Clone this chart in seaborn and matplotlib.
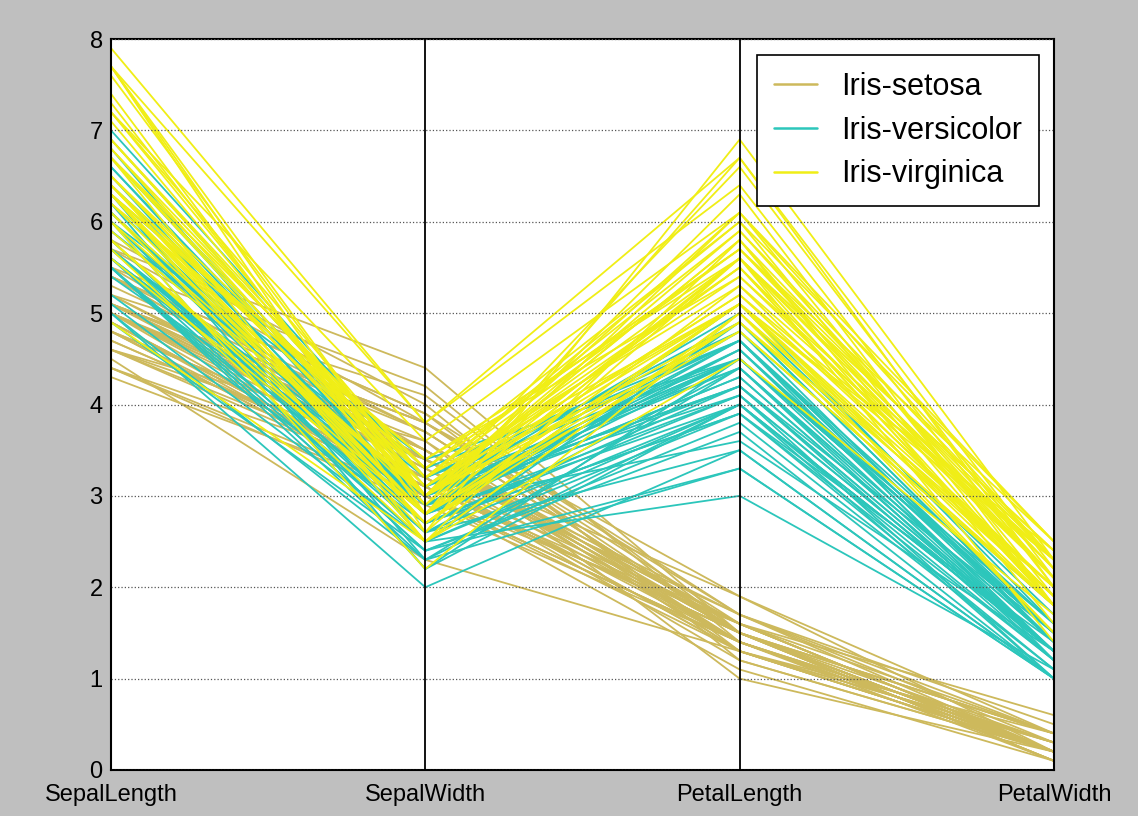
import numpy as np
import pandas as pd
import seaborn as sns
import matplotlib
matplotlib.use("Agg")
import matplotlib.pyplot as plt
from matplotlib.lines import Line2D

features = ["SepalLength", "SepalWidth", "PetalLength", "PetalWidth"]
species_names = ["Iris-setosa", "Iris-versicolor", "Iris-virginica"]
species_counts = [50, 50, 50]
species_colors = ["#cdb95c", "#2cc6bb", "#f0ee16"]

sepal_length = [
    5.1, 4.9, 4.7, 4.6, 5.0, 5.4, 4.6, 5.0, 4.4, 4.9, 5.4, 4.8, 4.8, 4.3, 5.8, 5.7, 5.4, 5.1, 5.7, 5.1,
    5.4, 5.1, 4.6, 5.1, 4.8, 5.0, 5.0, 5.2, 5.2, 4.7, 4.8, 5.4, 5.2, 5.5, 4.9, 5.0, 5.5, 4.9, 4.4, 5.1,
    5.0, 4.5, 4.4, 5.0, 5.1, 4.8, 5.1, 4.6, 5.3, 5.0,
    7.0, 6.4, 6.9, 5.5, 6.5, 5.7, 6.3, 4.9, 6.6, 5.2, 5.0, 5.9, 6.0, 6.1, 5.6, 6.7, 5.6, 5.8, 6.2, 5.6,
    5.9, 6.1, 6.3, 6.1, 6.4, 6.6, 6.8, 6.7, 6.0, 5.7, 5.5, 5.5, 5.8, 6.0, 5.4, 6.0, 6.7, 6.3, 5.6, 5.5,
    5.5, 6.1, 5.8, 5.0, 5.6, 5.7, 5.7, 6.2, 5.1, 5.7,
    6.3, 5.8, 7.1, 6.3, 6.5, 7.6, 4.9, 7.3, 6.7, 7.2, 6.5, 6.4, 6.8, 5.7, 5.8, 6.4, 6.5, 7.7, 7.7, 6.0,
    6.9, 5.6, 7.7, 6.3, 6.7, 7.2, 6.2, 6.1, 6.4, 7.2, 7.4, 7.9, 6.4, 6.3, 6.1, 7.7, 6.3, 6.4, 6.0, 6.9,
    6.7, 6.9, 5.8, 6.8, 6.7, 6.7, 6.3, 6.5, 6.2, 5.9,
]
sepal_width = [
    3.5, 3.0, 3.2, 3.1, 3.6, 3.9, 3.4, 3.4, 2.9, 3.1, 3.7, 3.4, 3.0, 3.0, 4.0, 4.4, 3.9, 3.5, 3.8, 3.8,
    3.4, 3.7, 3.6, 3.3, 3.4, 3.0, 3.4, 3.5, 3.4, 3.2, 3.1, 3.4, 4.1, 4.2, 3.1, 3.2, 3.5, 3.1, 3.0, 3.4,
    3.5, 2.3, 3.2, 3.5, 3.8, 3.0, 3.8, 3.2, 3.7, 3.3,
    3.2, 3.2, 3.1, 2.3, 2.8, 2.8, 3.3, 2.4, 2.9, 2.7, 2.0, 3.0, 2.2, 2.9, 2.9, 3.1, 3.0, 2.7, 2.2, 2.5,
    3.2, 2.8, 2.5, 2.8, 2.9, 3.0, 2.8, 3.0, 2.9, 2.6, 2.4, 2.4, 2.7, 2.7, 3.0, 3.4, 3.1, 2.3, 3.0, 2.5,
    2.6, 3.0, 2.6, 2.3, 2.7, 3.0, 2.9, 2.9, 2.5, 2.8,
    3.3, 2.7, 3.0, 2.9, 3.0, 3.0, 2.5, 2.9, 2.5, 3.6, 3.2, 2.7, 3.0, 2.5, 2.8, 3.2, 3.0, 3.8, 2.6, 2.2,
    3.2, 2.8, 2.8, 2.7, 3.3, 3.2, 2.8, 3.0, 2.8, 3.0, 2.8, 3.8, 2.8, 2.8, 2.6, 3.0, 3.4, 3.1, 3.0, 3.1,
    3.1, 3.1, 2.7, 3.2, 3.3, 3.0, 2.5, 3.0, 3.4, 3.0,
]
petal_length = [
    1.4, 1.4, 1.3, 1.5, 1.4, 1.7, 1.4, 1.5, 1.4, 1.5, 1.5, 1.6, 1.4, 1.1, 1.2, 1.5, 1.3, 1.4, 1.7, 1.5,
    1.7, 1.5, 1.0, 1.7, 1.9, 1.6, 1.6, 1.5, 1.4, 1.6, 1.6, 1.5, 1.5, 1.4, 1.5, 1.2, 1.3, 1.5, 1.3, 1.5,
    1.3, 1.3, 1.3, 1.6, 1.9, 1.4, 1.6, 1.4, 1.5, 1.4,
    4.7, 4.5, 4.9, 4.0, 4.6, 4.5, 4.7, 3.3, 4.6, 3.9, 3.5, 4.2, 4.0, 4.7, 3.6, 4.4, 4.5, 4.1, 4.5, 3.9,
    4.8, 4.0, 4.9, 4.7, 4.3, 4.4, 4.8, 5.0, 4.5, 3.5, 3.8, 3.7, 3.9, 5.1, 4.5, 4.5, 4.7, 4.4, 4.1, 4.0,
    4.4, 4.6, 4.0, 3.3, 4.2, 4.2, 4.2, 4.3, 3.0, 4.1,
    6.0, 5.1, 5.9, 5.6, 5.8, 6.6, 4.5, 6.3, 5.8, 6.1, 5.1, 5.3, 5.5, 5.0, 5.1, 5.3, 5.5, 6.7, 6.9, 5.0,
    5.7, 4.9, 6.7, 4.9, 5.7, 6.0, 4.8, 4.9, 5.6, 5.8, 6.1, 6.4, 5.6, 5.1, 5.6, 6.1, 5.6, 5.5, 4.8, 5.4,
    5.6, 5.1, 5.1, 5.9, 5.7, 5.2, 5.0, 5.2, 5.4, 5.1,
]
petal_width = [
    0.2, 0.2, 0.2, 0.2, 0.2, 0.4, 0.3, 0.2, 0.2, 0.1, 0.2, 0.2, 0.1, 0.1, 0.2, 0.4, 0.4, 0.3, 0.3, 0.3,
    0.2, 0.4, 0.2, 0.5, 0.2, 0.2, 0.4, 0.2, 0.2, 0.2, 0.2, 0.4, 0.1, 0.2, 0.1, 0.2, 0.2, 0.1, 0.2, 0.2,
    0.3, 0.3, 0.2, 0.6, 0.4, 0.3, 0.2, 0.2, 0.2, 0.2,
    1.4, 1.5, 1.5, 1.3, 1.5, 1.3, 1.6, 1.0, 1.3, 1.4, 1.0, 1.5, 1.0, 1.4, 1.3, 1.4, 1.5, 1.0, 1.5, 1.1,
    1.8, 1.3, 1.5, 1.2, 1.3, 1.4, 1.4, 1.7, 1.5, 1.0, 1.1, 1.0, 1.2, 1.6, 1.5, 1.6, 1.5, 1.3, 1.3, 1.3,
    1.2, 1.4, 1.2, 1.0, 1.3, 1.2, 1.3, 1.3, 1.1, 1.3,
    2.5, 1.9, 2.1, 1.8, 2.2, 2.1, 1.7, 1.8, 1.8, 2.5, 2.0, 1.9, 2.1, 2.0, 2.4, 2.3, 1.8, 2.2, 2.3, 1.5,
    2.3, 2.0, 2.0, 1.8, 2.1, 1.8, 1.8, 1.8, 2.1, 1.6, 1.9, 2.0, 2.2, 1.5, 1.4, 2.3, 2.4, 1.8, 1.8, 2.1,
    2.4, 2.3, 1.9, 2.3, 2.5, 2.3, 1.9, 2.0, 2.3, 1.8,
]
y_ticks = [0, 1, 2, 3, 4, 5, 6, 7, 8]

species = []
for name, n in zip(species_names, species_counts):
    species += [name] * n

df = pd.DataFrame({
    "SepalLength": sepal_length,
    "SepalWidth": sepal_width,
    "PetalLength": petal_length,
    "PetalWidth": petal_width,
    "Name": species,
})
df["row"] = np.arange(len(df))
long = df.melt(id_vars=["row", "Name"], value_vars=features, var_name="feature", value_name="value")
long["x"] = long["feature"].map({f: i for i, f in enumerate(features)})

sns.set_style("white")
plt.rcParams["font.family"] = ["Liberation Sans", "DejaVu Sans"]

fig = plt.figure(figsize=(11.38, 8.16), dpi=100, facecolor="#bfbfbf")
ax = fig.add_axes([111 / 1138, 1 - 770 / 816, (1054 - 111) / 1138, (770 - 39) / 816])
ax.set_facecolor("white")

sns.lineplot(data=long, x="x", y="value", hue="Name", units="row", estimator=None,
             hue_order=species_names, palette=species_colors, linewidth=1.3,
             sort=False, ax=ax, legend=False)

for i in range(len(features)):
    ax.axvline(i, color="black", linewidth=1.3, zorder=3)

ax.set_xlim(0, len(features) - 1)
ax.set_ylim(0, 8)
ax.set_xticks(range(len(features)))
ax.set_xticklabels(features, fontsize=17)
ax.set_yticks(y_ticks)
ax.set_yticklabels([str(t) for t in y_ticks], fontsize=17)
ax.yaxis.grid(True, linestyle=":", color="#555555", linewidth=0.9)
ax.set_axisbelow(False)
for sp in ax.spines.values():
    sp.set_color("black")
    sp.set_linewidth(1.5)
ax.tick_params(axis="x", length=0, pad=10, colors="black")
ax.tick_params(axis="y", length=0, pad=6, colors="black")
ax.set_xlabel("")
ax.set_ylabel("")

handles = [Line2D([0], [0], color=c, lw=1.8) for c in species_colors]
leg = ax.legend(handles, species_names, loc="upper right", fontsize=22,
                frameon=True, fancybox=False, framealpha=1, edgecolor="black",
                bbox_to_anchor=((1039 - 111) / 943, (770 - 55) / 731), borderaxespad=0,
                handlelength=1.4, handletextpad=0.8, labelcolor="black",
                borderpad=0.55, labelspacing=0.45)
leg.get_frame().set_linewidth(1.2)

fig.savefig("out.png", dpi=100, facecolor=fig.get_facecolor())
